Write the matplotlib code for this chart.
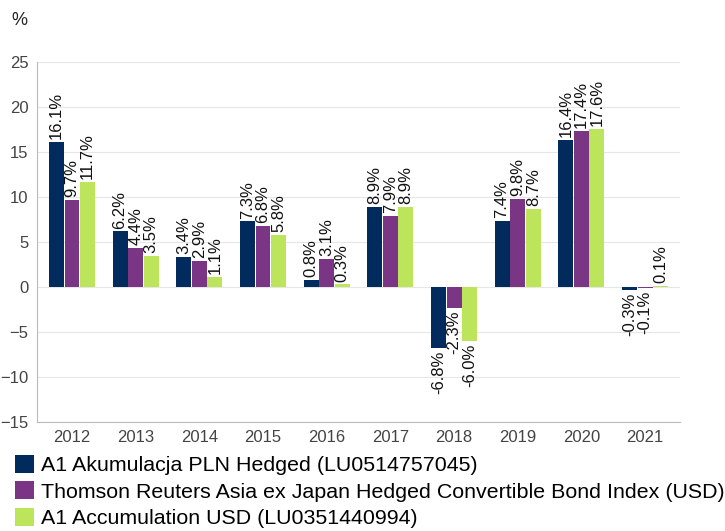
import numpy as np
import matplotlib.pyplot as plt
from matplotlib.patches import Patch

years = ["2012", "2013", "2014", "2015", "2016", "2017", "2018", "2019", "2020", "2021"]
fund_pln = [16.1, 6.2, 3.4, 7.3, 0.8, 8.9, -6.8, 7.4, 16.4, -0.3]
index_usd = [9.7, 4.4, 2.9, 6.8, 3.1, 7.9, -2.3, 9.8, 17.4, -0.1]
fund_usd = [11.7, 3.5, 1.1, 5.8, 0.3, 8.9, -6.0, 8.7, 17.6, 0.1]
series_names = [
    "A1 Akumulacja PLN Hedged (LU0514757045)",
    "Thomson Reuters Asia ex Japan Hedged Convertible Bond Index (USD)",
    "A1 Accumulation USD (LU0351440994)",
]
colors = ["#002b5c", "#7b3585", "#bce55c"]

plt.rcParams['font.family'] = ['Liberation Sans', 'DejaVu Sans']

fig = plt.figure(figsize=(7.25, 5.31), dpi=100)
ax = fig.add_axes([0.051, 0.205, 0.887, 0.678])

x = np.arange(len(years))
w = 0.235
for i, vals in enumerate([fund_pln, index_usd, fund_usd]):
    bars = ax.bar(x + (i - 1) * (w + 0.01), vals, width=w, color=colors[i], zorder=3)
    ax.bar_label(bars, labels=[f"{v:.1f}%" for v in vals], rotation=90,
                 padding=2, fontsize=12, color="#111111")

ax.set_ylim(-15, 25)
ax.set_yticks(range(-15, 30, 5))
ax.set_xlim(-0.55, len(years) - 0.45)
ax.set_xticks(x)
ax.set_xticklabels(years)
ax.tick_params(axis="both", length=0, labelsize=12, colors="#444444")
ax.tick_params(axis="x", pad=6)
ax.tick_params(axis="y", pad=6)
ax.grid(axis="y", color="#e6e6e6", linewidth=0.8, zorder=0)
for s in ["top", "right"]:
    ax.spines[s].set_visible(False)
for s in ["left", "bottom"]:
    ax.spines[s].set_color("#bbbbbb")

fig.text(0.015, 0.952, "%", fontsize=13, color="#222222")

# legend sits just under the axes, last row close to the bottom edge
handles = [Patch(facecolor=c) for c in colors]
fig.legend(handles, series_names, loc="upper left", bbox_to_anchor=(0.02, 0.143),
           frameon=False, fontsize=15.4, handlelength=0.92, handleheight=0.92,
           handletextpad=0.32, labelspacing=0.28, borderaxespad=0, borderpad=0)

fig.savefig("out.png", dpi=100)
